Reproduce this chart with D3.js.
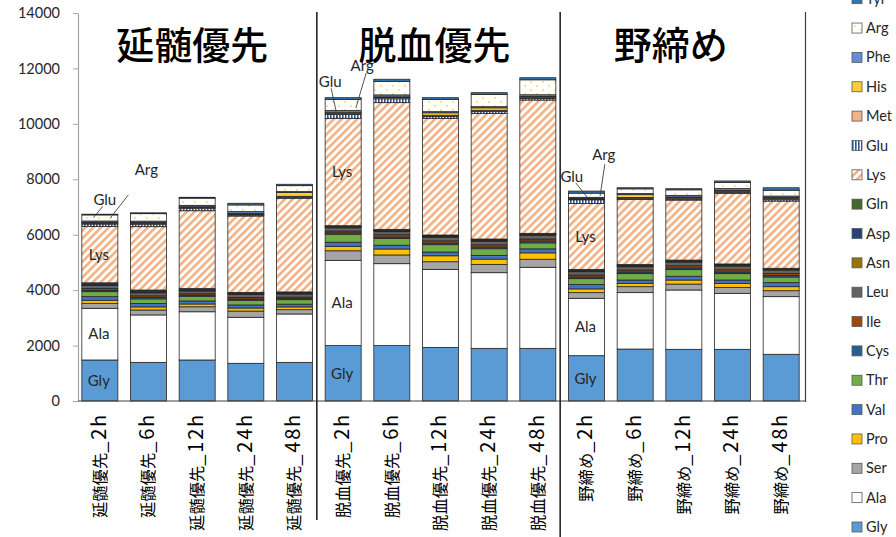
<!DOCTYPE html>
<html><head><meta charset="utf-8">
<script src="https://cdn.jsdelivr.net/npm/d3@7"></script>
<style>
html,body{margin:0;padding:0;background:#fff;}
svg{display:block;}
</style></head>
<body>
<script>
// ---- data ----
const categories = [
  "延髄優先_2h","延髄優先_6h","延髄優先_12h","延髄優先_24h","延髄優先_48h",
  "脱血優先_2h","脱血優先_6h","脱血優先_12h","脱血優先_24h","脱血優先_48h",
  "野締め_2h","野締め_6h","野締め_12h","野締め_24h","野締め_48h"];
const groupTitles = ["延髄優先","脱血優先","野締め"];
const seriesNames = ["Gly","Ala","Ser","Pro","Val","Thr","Cys","Ile","Leu","Asn","Asp","Gln","Lys","Glu","Met","His","Phe","Arg","Tyr"];
const Gly = [1480,1395,1480,1360,1395, 2000,2000,1935,1900,1900, 1635,1875,1865,1865,1685];
const Ala = [1865,1710,1740,1660,1745, 3075,2955,2815,2730,2925, 2070,2035,2140,2020,2080];
const Ser = [180,180,180,225,155, 345,315,275,300,290, 205,215,215,215,215];
const Pro = [110,110,100,110,100, 160,215,215,190,230, 135,120,145,145,145];
const Val = [130,120,110,110,100, 150,135,135,135,145, 155,120,135,120,145];
const Thr = [180,170,170,170,160, 290,240,265,240,215, 215,230,240,230,205];
const Cys = [50,50,40,45,45, 50,60,60,60,70, 60,60,60,60,55];
const Ile = [60,60,50,50,50, 60,80,80,80,70, 70,70,80,80,70];
const Leu = [110,110,100,110,110, 120,110,120,120,130, 120,120,130,130,120];
const Asn = [20,20,20,20,20, 20,25,30,30,25, 25,25,25,25,25];
const Asp = [40,40,40,30,25, 25,30,30,30,25, 30,30,25,30,25];
const Gln = [40,40,35,30,30, 30,30,30,30,25, 30,30,25,25,20];
const Lys = [2030,2285,2800,2755,3380, 3875,4570,4210,4535,4810, 2380,2345,2165,2550,2425];
const Glu = [90,90,90,40,40, 140,140,70,70,60, 130,40,40,40,50];
const Met = [30,30,30,30,30, 40,40,40,40,40, 30,30,40,40,40];
const His = [30,30,25,30,140, 40,30,90,90,30, 30,100,30,30,40];
const Phe = [50,50,50,60,30, 60,70,40,40,60, 30,40,60,60,50];
const Arg = [220,270,260,240,215, 400,490,440,440,540, 150,170,200,215,210];
const Tyr = [25,30,30,60,50, 65,75,65,65,75, 75,40,40,60,90];
const yTicks = [0,2000,4000,6000,8000,10000,12000,14000];

const valueArrays = {Gly,Ala,Ser,Pro,Val,Thr,Cys,Ile,Leu,Asn,Asp,Gln,Lys,Glu,Met,His,Phe,Arg,Tyr};
const fills = {
  Gly:"#5B9BD5", Ala:"#FFFFFF", Ser:"#A5A5A5", Pro:"#FFC000", Val:"#4472C4", Thr:"#70AD47",
  Cys:"#255E91", Ile:"#9E480E", Leu:"#636363", Asn:"#997300", Asp:"#264478", Gln:"#43682B",
  Lys:"url(#pLys)", Glu:"url(#pGlu)", Met:"#F4B183", His:"#FFCD33", Phe:"#698ED0",
  Arg:"url(#pArg)", Tyr:"#2E75B6"
};

const table = categories.map((c,i)=>{
  const row = {cat:c};
  seriesNames.forEach(s=>row[s]=valueArrays[s][i]);
  return row;
});

const W=896,H=537;
const svg = d3.select("body").append("svg").attr("width",W).attr("height",H)
  .style("font-family","Lato, 'Noto Sans', sans-serif");

// patterns
const defs = svg.append("defs");
const pl = defs.append("pattern").attr("id","pLys").attr("patternUnits","userSpaceOnUse")
  .attr("width",5.5).attr("height",5.5).attr("patternTransform","rotate(45)");
pl.append("rect").attr("width",5.5).attr("height",5.5).attr("fill","#fff");
pl.append("rect").attr("width",2.6).attr("height",5.5).attr("fill","#F4B183");
const pg = defs.append("pattern").attr("id","pGlu").attr("patternUnits","userSpaceOnUse")
  .attr("width",3).attr("height",3);
pg.append("rect").attr("width",3).attr("height",3).attr("fill","#fff");
pg.append("rect").attr("width",1.6).attr("height",3).attr("fill","#2F5597");
const pa = defs.append("pattern").attr("id","pArg").attr("patternUnits","userSpaceOnUse")
  .attr("width",12).attr("height",8);
pa.append("rect").attr("width",12).attr("height",8).attr("fill","#fff");
pa.append("circle").attr("cx",3).attr("cy",2).attr("r",0.9).attr("fill","#FFD25A");
pa.append("circle").attr("cx",9).attr("cy",6).attr("r",0.9).attr("fill","#FFD25A");

const x = d3.scaleBand().domain(categories).range([75.5,805.5]).paddingInner(0.26).paddingOuter(0.13);
const y = d3.scaleLinear().domain([0,14000]).range([401,13]);

// y axis
const yAxis = svg.append("g").attr("transform","translate(78,0)")
  .call(d3.axisLeft(y).tickValues(yTicks).tickSize(5).tickSizeOuter(0).tickPadding(13).tickFormat(d3.format("d")));
yAxis.select(".domain").attr("stroke","#A6A6A6").attr("stroke-width",1.2);
yAxis.selectAll(".tick line").attr("stroke","#A6A6A6");
yAxis.selectAll(".tick text").attr("font-size",14.5).attr("fill","#262626").style("font-family","Lato, sans-serif");

// stacks
const stack = d3.stack().keys(seriesNames)(table);
const gBars = svg.append("g");
stack.forEach(layer=>{
  gBars.append("g").selectAll("rect").data(layer).join("rect")
    .attr("x",d=>x(d.data.cat))
    .attr("width",x.bandwidth())
    .attr("y",d=>y(d[1]))
    .attr("height",d=>Math.max(0,y(d[0])-y(d[1])))
    .attr("fill",fills[layer.key])
    .attr("stroke","#262626").attr("stroke-width",0.8);
});

// x axis line
svg.append("line").attr("x1",78).attr("x2",x.range()[1]).attr("y1",y(0)).attr("y2",y(0))
  .attr("stroke","#404040").attr("stroke-width",1.2);

// category labels
const catLabels = svg.append("g").selectAll("text").data(categories).join("text")
  .attr("transform",d=>`translate(${x(d)+x.bandwidth()/2},413) rotate(-90)`)
  .attr("dy","0.35em").attr("text-anchor","end")
  .attr("font-size",16.3).style("font-family","'Noto Sans CJK JP', sans-serif")
  .attr("fill","#000");
catLabels.append("tspan").text(d=>d.split("_")[0]);
catLabels.append("tspan").attr("font-size",20).attr("letter-spacing",1.8).text(d=>"_"+d.split("_")[1]);

// group dividers
const step = x.step();
const div1 = x(categories[5]) - step*x.paddingInner()/2 - 2;
const div2 = x(categories[10]) - step*x.paddingInner()/2 - 2;
svg.append("line").attr("x1",div1).attr("x2",div1).attr("y1",12).attr("y2",520).attr("stroke","#262626").attr("stroke-width",1.6);
svg.append("line").attr("x1",div2).attr("x2",div2).attr("y1",12).attr("y2",537).attr("stroke","#262626").attr("stroke-width",1.6);
svg.append("line").attr("x1",x.range()[1]).attr("x2",x.range()[1]).attr("y1",12).attr("y2",402).attr("stroke","#404040").attr("stroke-width",1.2);

// group titles
const titleX = [x(categories[2])+x.bandwidth()/2-5, x(categories[7])+x.bandwidth()/2-6, x(categories[12])+x.bandwidth()/2-13];
groupTitles.forEach((t,i)=>{
  svg.append("text").attr("x",titleX[i]).attr("y",59).attr("text-anchor","middle")
    .attr("font-size",38).attr("font-weight",500).style("font-family","'Noto Sans CJK JP', sans-serif")
    .attr("fill","#000").text(t);
});

// in-bar labels
function segOf(name, idx){
  const layer = stack[seriesNames.indexOf(name)];
  const d = layer[idx];
  return {cx: x(categories[idx])+x.bandwidth()/2, cy:(y(d[0])+y(d[1]))/2};
}
[0,5,10].forEach(bi=>{
  ["Gly","Ala","Lys"].forEach(s=>{
    const p = segOf(s,bi);
    svg.append("text").attr("x",p.cx-1).attr("y",p.cy).attr("dy","0.35em").attr("text-anchor","middle")
      .attr("font-size",15).attr("fill","#262626").style("font-family","Lato, sans-serif").text(s);
  });
});
// callout labels
const callouts = [
  {s:"Glu",bar:0, lx:5, ly:-26, sx:-2, sy:7, ex:-6.5, ey:-7.5},
  {s:"Arg",bar:0, lx:46.5, ly:-48, sx:-18, sy:25, ex:10.5, ey:0},
  {s:"Glu",bar:5, lx:-13, ly:-35, sx:1, sy:7, ex:-5.6, ey:1.6},
  {s:"Arg",bar:5, lx:19, ly:-39, sx:4, sy:7, ex:12.7, ey:3},
  {s:"Glu",bar:10, lx:-14.7, ly:-24.6, sx:4, sy:6, ex:1.3, ey:-3.6},
  {s:"Arg",bar:10, lx:17.3, ly:-40, sx:1, sy:9, ex:13.6, ey:0.8}
];
callouts.forEach(c=>{
  const p = segOf(c.s,c.bar);
  const tx = p.cx+c.lx, ty = p.cy+c.ly;
  svg.append("line").attr("x1",tx+c.sx).attr("y1",ty+c.sy).attr("x2",p.cx+c.ex).attr("y2",p.cy+c.ey)
    .attr("stroke","#404040").attr("stroke-width",0.9);
  svg.append("text").attr("x",tx).attr("y",ty).attr("dy","0.35em").attr("text-anchor","middle")
    .attr("font-size",15).attr("fill","#262626").style("font-family","Lato, sans-serif").text(c.s);
});

// legend
const lg = svg.append("g");
seriesNames.forEach((s,i)=>{
  const cy = 527 - i*29.35;
  lg.append("rect").attr("x",852).attr("y",cy-5).attr("width",10).attr("height",10)
    .attr("fill",fills[s]).attr("stroke","#595959").attr("stroke-width",0.8);
  lg.append("text").attr("x",866).attr("y",cy).attr("dy","0.35em").attr("font-size",14.5)
    .attr("fill","#262626").style("font-family","Lato, sans-serif").text(s);
});
</script>
</body></html>
